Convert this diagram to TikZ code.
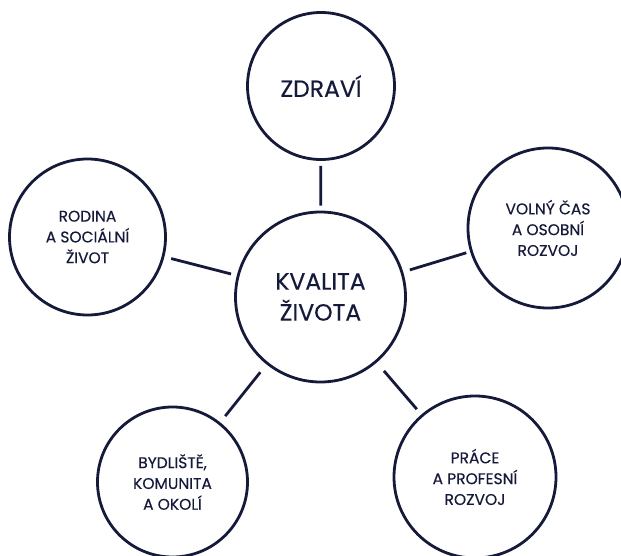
\documentclass[tikz,border=0pt]{standalone}
\usepackage{fontspec}
\setmainfont{Poppins}[FakeBold=0.35]
\definecolor{navy}{HTML}{161A3A}
\begin{document}
\begin{tikzpicture}[x=1pt,y=-1pt,
  ring/.style={circle, draw=navy, line width=2.8pt, inner sep=0pt, text=navy, align=center},
  conn/.style={draw=navy, line width=2.8pt},
  small/.style={font=\fontsize{15.5}{20.8}\selectfont},
  big/.style={font=\fontsize{23.5}{31}\selectfont}]
\useasboundingbox (0,0) rectangle (621,556);
\clip (0,0) rectangle (621,556);
\fill[white] (0,0) rectangle (621,556);
\node[ring, minimum size=170pt, big] (c) at (320.5,297) {KVALITA\\ŽIVOTA};
\node[ring, minimum size=147pt, big] (z) at (321,86) {ZDRAVÍ};
\node[ring, minimum size=156pt, small] (r) at (87.5,237) {RODINA\\A SOCIÁLNÍ\\ŽIVOT};
\node[ring, minimum size=160pt, small] (v) at (548,228) {VOLNÝ ČAS\\A OSOBNÍ\\ROZVOJ};
\node[ring, minimum size=150pt, small] (b) at (172.5,482) {BYDLIŠTĚ,\\KOMUNITA\\A OKOLÍ};
\node[ring, minimum size=162pt, small] (p) at (475,477) {PRÁCE\\A PROFESNÍ\\ROZVOJ};
\draw[conn, shorten <=5pt, shorten >=5pt] (z) -- (c);
\draw[conn, shorten <=7pt, shorten >=6pt] (r) -- (c);
\draw[conn, shorten <=7pt, shorten >=4pt] (c) -- (v);
\draw[conn, shorten <=10pt, shorten >=8pt] (c) -- (b);
\draw[conn, shorten <=11pt, shorten >=7pt] (c) -- (p);
\end{tikzpicture}
\end{document}
